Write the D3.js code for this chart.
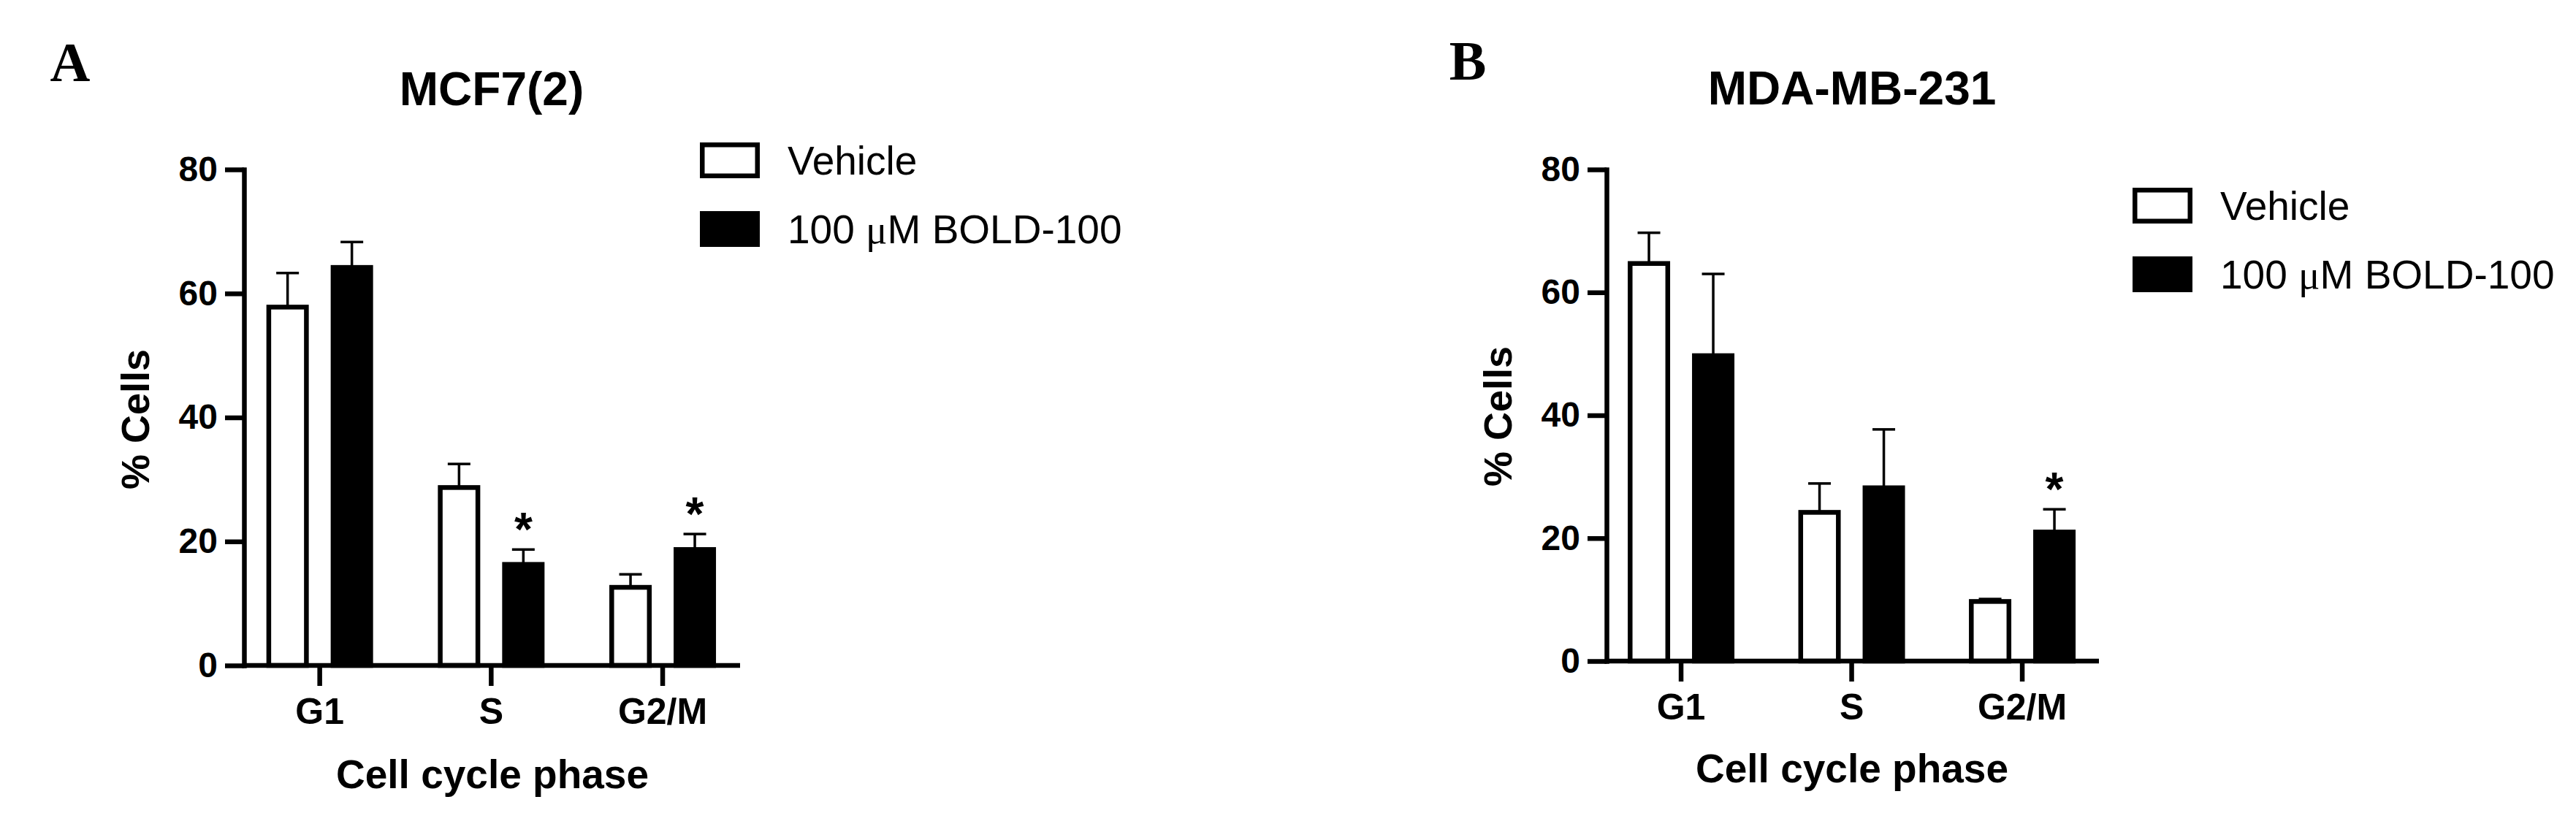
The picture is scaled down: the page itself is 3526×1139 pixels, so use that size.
<!DOCTYPE html>
<meta charset="utf-8">
<html>
<style type='text/css'>
  body { margin:0; background:#fff; }
  text { font-family:"Liberation Sans", Arial, sans-serif; fill:#000; }
</style>
<script src="https://d3js.org/d3.v7.min.js"></script>
<body>
<svg id="fig" width="3526" height="1139"></svg>

<script>

// categories / series
var phases = ["G1", "S", "G2/M"];
var series = ["Vehicle", "100 μM BOLD-100"];
var yTicks = [0, 20, 40, 60, 80];

// MCF7(2)
var mcf7Vehicle    = [57.8, 28.7, 12.6];
var mcf7VehicleErr = [5.5, 3.8, 2.1];
var mcf7Bold       = [64.2, 16.3, 18.7];
var mcf7BoldErr    = [4.1, 2.4, 2.5];
var mcf7Stars      = ["", "*", "*"];

// MDA-MB-231
var mdaVehicle    = [64.7, 24.2, 9.7];
var mdaVehicleErr = [5.0, 4.7, 0.4];
var mdaBold       = [49.7, 28.2, 21.0];
var mdaBoldErr    = [13.3, 9.5, 3.7];
var mdaStars      = ["", "", "*"];

var svg = d3.select("#fig");
svg.append("rect").attr("width", 3526).attr("height", 1139).attr("fill", "#fff");

var LW = 6.5;      // axis / bar outline
var barW = 51.5;

function drawPanel(p) {
  var g = svg.append("g");

  var x = d3.scaleBand().domain(phases).range(p.xRange);
  var off = d3.scalePoint().domain(series).range([-44, 44]);
  var y = d3.scaleLinear().domain([0, 80]).range([p.y0, p.y80]);
  var cx = function(ph, s) { return x(ph) + x.bandwidth() / 2 + off(s); };

  // panel letter + title
  g.append("text").attr("x", p.letterX).attr("y", p.letterY)
    .attr("text-anchor", "middle")
    .style("font-family", '"Liberation Serif", "Times New Roman", serif')
    .style("font-weight", "bold").style("font-size", "76px")
    .text(p.letter);
  g.append("text").attr("x", p.titleX).attr("y", p.titleY)
    .attr("text-anchor", "middle")
    .style("font-weight", "bold").style("font-size", "64px")
    .text(p.title);

  // bars with error bars
  series.forEach(function(s, si) {
    var vals = p.values[si], errs = p.errors[si];
    var rows = phases.map(function(ph, i) { return {ph: ph, v: vals[i], e: errs[i], star: si == 1 ? p.stars[i] : ""}; });

    var eb = g.append("g").attr("stroke", "#000").attr("stroke-width", 3.5);
    eb.selectAll(null).data(rows).enter().append("line")
      .attr("x1", d => cx(d.ph, s)).attr("x2", d => cx(d.ph, s))
      .attr("y1", d => y(d.v)).attr("y2", d => y(d.v + d.e));
    eb.selectAll(null).data(rows).enter().append("line")
      .attr("x1", d => cx(d.ph, s) - 15.5).attr("x2", d => cx(d.ph, s) + 15.5)
      .attr("y1", d => y(d.v + d.e)).attr("y2", d => y(d.v + d.e));

    g.selectAll(null).data(rows).enter().append("rect")
      .attr("x", d => cx(d.ph, s) - barW / 2)
      .attr("y", d => y(d.v))
      .attr("width", barW)
      .attr("height", d => y(0) - y(d.v))
      .attr("fill", si == 0 ? "#fff" : "#000")
      .attr("stroke", "#000").attr("stroke-width", LW);

    g.selectAll(null).data(rows.filter(d => d.star)).enter().append("text")
      .attr("x", d => cx(d.ph, s))
      .attr("y", d => y(d.v + d.e) - 5)
      .attr("text-anchor", "middle")
      .style("font-weight", "bold").style("font-size", "64px")
      .text(d => d.star);
  });

  // y axis
  var ya = g.append("g").attr("transform", "translate(" + p.axisX + ",0)")
    .call(d3.axisLeft(y).tickValues(yTicks).tickSize(26).tickSizeOuter(0).tickPadding(10));
  ya.select(".domain").attr("stroke-width", LW).attr("stroke-linecap", "square");
  ya.selectAll(".tick line").attr("stroke-width", LW);
  ya.selectAll(".tick text").attr("font-family", null)
    .style("font-weight", "bold").style("font-size", "48px");

  // x axis
  g.append("line").attr("x1", p.axisX).attr("x2", p.xEnd)
    .attr("y1", y(0)).attr("y2", y(0))
    .attr("stroke", "#000").attr("stroke-width", LW);
  var xa = g.append("g").attr("transform", "translate(0," + y(0) + ")")
    .call(d3.axisBottom(x).tickSize(28).tickPadding(16));
  xa.select(".domain").remove();
  xa.selectAll(".tick line").attr("stroke-width", LW);
  xa.selectAll(".tick text").attr("font-family", null)
    .style("font-weight", "bold").style("font-size", "50px");

  // axis titles
  g.append("text").attr("x", p.xTitleX).attr("y", p.xTitleY)
    .attr("text-anchor", "middle")
    .style("font-weight", "bold").style("font-size", "55px")
    .text("Cell cycle phase");
  g.append("text")
    .attr("transform", "translate(" + p.yTitleX + "," + p.yTitleY + ") rotate(-90)")
    .attr("text-anchor", "middle")
    .style("font-weight", "bold").style("font-size", "54px")
    .text("% Cells");

  // legend
  var lg = g.append("g").attr("transform", "translate(" + p.legX + "," + p.legY + ")");
  series.forEach(function(s, si) {
    lg.append("rect").attr("x", LW / 2).attr("y", si * 94 + LW / 2)
      .attr("width", 82 - LW).attr("height", 49 - LW)
      .attr("fill", si == 0 ? "#fff" : "#000")
      .attr("stroke", "#000").attr("stroke-width", LW);
    var t = lg.append("text").attr("x", 120).attr("y", si * 94 + 44)
      .style("font-size", "55px");
    if (si == 0) {
      t.text(s);
    } else {
      t.append("tspan").text("100 ");
      t.append("tspan").style("font-family", '"Liberation Serif", serif').text("μ");
      t.append("tspan").text("M BOLD-100");
    }
  });
}

drawPanel({
  letter: "A", letterX: 96, letterY: 111,
  title: "MCF7(2)", titleX: 673, titleY: 144,
  xRange: [320.3, 1024.4], xEnd: 1013, axisX: 334,
  y0: 911, y80: 232,
  values: [mcf7Vehicle, mcf7Bold], errors: [mcf7VehicleErr, mcf7BoldErr], stars: mcf7Stars,
  xTitleX: 674, xTitleY: 1079, yTitleX: 204, yTitleY: 574,
  legX: 958, legY: 195
});

drawPanel({
  letter: "B", letterX: 2009, letterY: 109,
  title: "MDA-MB-231", titleX: 2535, titleY: 143,
  xRange: [2184.3, 2884.8], xEnd: 2873, axisX: 2199,
  y0: 905, y80: 232,
  values: [mdaVehicle, mdaBold], errors: [mdaVehicleErr, mdaBoldErr], stars: mdaStars,
  xTitleX: 2535, xTitleY: 1071, yTitleX: 2069, yTitleY: 570,
  legX: 2919, legY: 257
});

</script>
</body>
</html>
